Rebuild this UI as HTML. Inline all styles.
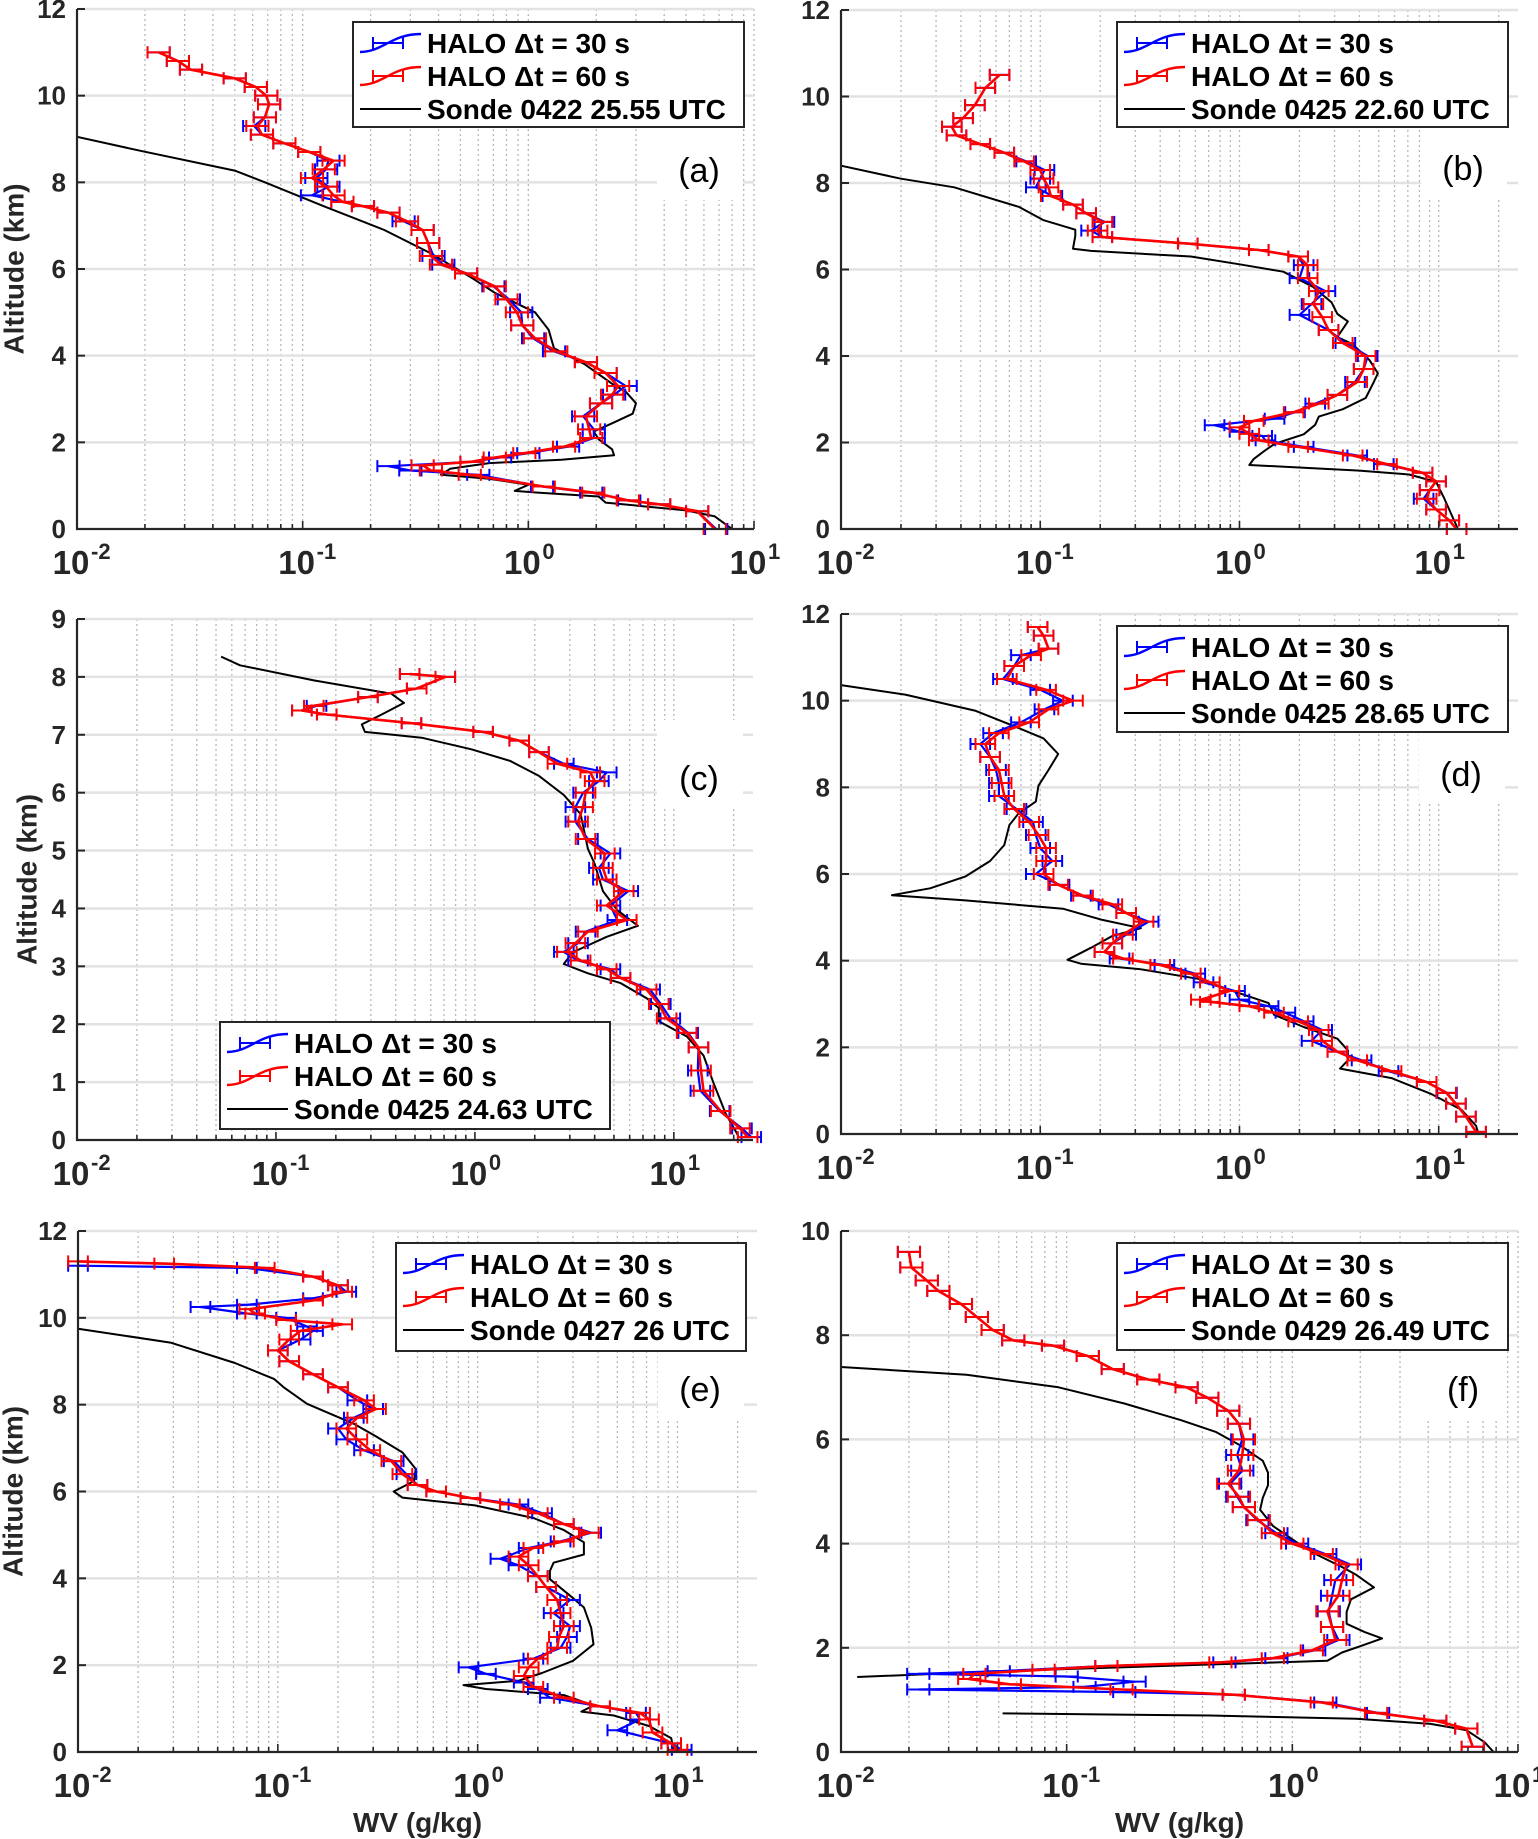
<!DOCTYPE html>
<html><head><meta charset="utf-8">
<style>
html,body{margin:0;padding:0;background:#fff;}
svg{display:block;font-family:"Liberation Sans",Arial,sans-serif;}
</style></head>
<body>
<svg id="fig" width="1538" height="1839" viewBox="0 0 1538 1839" xmlns="http://www.w3.org/2000/svg"></svg>
<script>
// ---------- Panel (a) ----------
const aBlue = [[11.0,0.023],[10.8,0.028],[10.6,0.032],[10.4,0.05],[10.2,0.062],[10.0,0.069],[9.8,0.071],[9.5,0.068],[9.3,0.061],[9.1,0.066],[8.9,0.083],[8.7,0.107],[8.5,0.13],[8.3,0.127],[8.1,0.115],[7.9,0.13],[7.7,0.11],[7.55,0.15],[7.45,0.185],[7.3,0.24],[7.1,0.28],[6.9,0.34],[6.6,0.36],[6.3,0.38],[6.1,0.42],[5.9,0.53],[5.6,0.7],[5.3,0.82],[5.0,0.93],[4.7,0.94],[4.4,1.05],[4.1,1.3],[3.85,1.8],[3.6,2.2],[3.3,2.7],[3.1,2.4],[2.9,2.1],[2.6,1.75],[2.3,1.95],[2.1,1.95],[1.9,1.5],[1.75,1.0],[1.65,0.75],[1.55,0.56],[1.45,0.24],[1.35,0.3],[1.25,0.6],[0.98,1.15],[0.84,1.9],[0.66,2.8],[0.57,3.8],[0.41,5.6],[0.0,6.8]];
const aRed = [[11.0,0.023],[10.8,0.028],[10.6,0.032],[10.4,0.05],[10.2,0.062],[10.0,0.069],[9.8,0.071],[9.5,0.068],[9.3,0.063],[9.1,0.066],[8.9,0.083],[8.7,0.107],[8.5,0.137],[8.3,0.124],[8.1,0.11],[7.9,0.127],[7.7,0.137],[7.55,0.15],[7.45,0.185],[7.3,0.24],[7.1,0.29],[6.9,0.34],[6.6,0.36],[6.3,0.37],[6.1,0.41],[5.9,0.53],[5.6,0.71],[5.3,0.8],[5.0,0.89],[4.7,0.94],[4.4,1.07],[4.1,1.33],[3.85,1.8],[3.6,2.2],[3.3,2.5],[3.1,2.35],[2.9,2.1],[2.6,1.8],[2.3,1.86],[2.1,1.9],[1.9,1.44],[1.75,0.96],[1.65,0.71],[1.55,0.56],[1.47,0.34],[1.35,0.37],[1.25,0.55],[0.98,1.17],[0.84,1.94],[0.66,2.76],[0.57,3.8],[0.41,5.6],[0.0,6.7]];
const aSonde = [[9.05,0.01],[8.73,0.019],[8.27,0.05],[8.0,0.068],[7.45,0.124],[6.9,0.23],[6.36,0.37],[5.8,0.56],[5.45,0.71],[5.0,1.07],[4.6,1.23],[4.17,1.3],[3.8,1.78],[3.35,2.35],[3.17,2.7],[2.9,3.0],[2.66,2.9],[2.44,2.35],[2.25,1.95],[2.07,2.05],[1.84,2.35],[1.7,2.4],[1.6,1.4],[1.52,0.67],[1.39,0.45],[1.25,0.41],[1.16,0.67],[1.02,1.0],[0.88,0.87],[0.84,1.1],[0.75,2.05],[0.61,2.2],[0.43,5.0],[0.29,6.7],[0.0,8.0]];
// ---------- Panel (b) ----------
const bBlue = [[10.5,0.0625],[10.2,0.053],[9.8,0.047],[9.5,0.041],[9.3,0.036],[9.1,0.038],[8.9,0.05],[8.7,0.066],[8.5,0.085],[8.3,0.105],[8.1,0.1],[7.9,0.095],[7.7,0.115],[7.5,0.146],[7.3,0.17],[7.1,0.21],[6.9,0.18],[6.75,0.205],[6.6,0.55],[6.45,1.25],[6.3,1.97],[6.1,2.1],[5.8,2.0],[5.5,2.7],[5.2,2.3],[4.95,2.0],[4.6,2.8],[4.3,3.4],[4.0,4.4],[3.7,4.2],[3.4,3.8],[3.1,3.1],[2.9,2.4],[2.7,1.9],[2.55,1.5],[2.4,0.75],[2.25,1.0],[2.15,1.3],[2.05,1.35],[1.9,2.1],[1.7,3.9],[1.5,5.3],[1.3,8.3],[1.1,9.7],[0.9,9.0],[0.7,8.4],[0.45,9.7],[0.2,11.3],[0.0,12.3]];
const bRed = [[10.5,0.0625],[10.2,0.053],[9.8,0.047],[9.5,0.041],[9.3,0.036],[9.1,0.038],[8.9,0.05],[8.7,0.066],[8.5,0.083],[8.3,0.1],[8.1,0.104],[7.9,0.11],[7.7,0.113],[7.5,0.146],[7.3,0.17],[7.1,0.205],[6.9,0.194],[6.75,0.205],[6.6,0.55],[6.45,1.25],[6.3,1.97],[6.1,2.2],[5.8,2.2],[5.5,2.5],[5.2,2.35],[4.9,2.6],[4.6,2.8],[4.3,3.3],[4.0,4.3],[3.7,4.2],[3.4,3.9],[3.1,3.1],[2.9,2.5],[2.7,1.87],[2.5,1.18],[2.35,1.0],[2.2,1.12],[2.05,1.25],[1.9,1.97],[1.7,3.7],[1.5,5.5],[1.3,8.3],[1.1,9.7],[0.9,9.0],[0.7,8.7],[0.45,9.7],[0.2,11.3],[0.0,12.3]];
const bSonde = [[8.4,0.01],[8.1,0.02],[7.9,0.037],[7.45,0.078],[7.14,0.104],[6.92,0.15],[6.78,0.15],[6.48,0.146],[6.43,0.18],[6.3,0.57],[6.12,1.0],[5.95,1.66],[5.6,2.34],[5.24,2.9],[4.97,3.1],[4.8,3.5],[4.44,3.1],[4.27,3.7],[3.9,4.5],[3.6,4.95],[3.38,4.7],[3.03,4.3],[2.77,3.3],[2.6,2.5],[2.41,2.4],[2.19,2.1],[1.97,1.5],[1.8,1.33],[1.62,1.18],[1.48,1.12],[1.35,4.0],[1.26,7.1],[1.09,9.7],[0.73,10.6],[0.29,11.7],[0.0,12.5]];
// ---------- Panel (c) ----------
const cBlue = [[8.05,0.47],[8.0,0.71],[7.8,0.51],[7.65,0.29],[7.5,0.16],[7.42,0.135],[7.35,0.18],[7.2,0.48],[7.05,1.1],[6.9,1.67],[6.7,2.1],[6.5,2.8],[6.35,4.6],[6.2,4.2],[6.0,3.5],[5.75,3.2],[5.5,3.2],[5.2,3.7],[4.95,4.8],[4.7,4.2],[4.5,4.4],[4.3,5.9],[4.05,4.8],[3.8,5.2],[3.6,3.6],[3.4,3.3],[3.25,2.8],[3.1,3.3],[2.95,4.8],[2.8,5.4],[2.6,7.6],[2.35,8.6],[2.1,9.6],[1.85,11.8],[1.6,13.3],[1.2,13.2],[0.85,13.6],[0.5,17.0],[0.2,22.0],[0.05,24.5]];
const cRed = [[8.05,0.47],[8.0,0.71],[7.8,0.51],[7.65,0.29],[7.5,0.155],[7.42,0.135],[7.35,0.18],[7.2,0.48],[7.05,1.1],[6.9,1.67],[6.7,2.1],[6.5,2.6],[6.35,3.8],[6.2,4.0],[6.0,3.6],[5.75,3.5],[5.5,3.3],[5.2,3.6],[4.95,4.5],[4.7,4.4],[4.5,4.6],[4.3,5.6],[4.05,4.6],[3.8,5.8],[3.6,3.7],[3.4,3.2],[3.25,2.9],[3.1,3.4],[2.95,4.6],[2.8,5.4],[2.6,7.3],[2.35,8.4],[2.1,9.2],[1.85,11.6],[1.6,13.3],[1.2,13.7],[0.85,14.1],[0.5,17.2],[0.2,21.5],[0.05,23.5]];
const cSonde = [[8.35,0.053],[8.2,0.066],[7.94,0.155],[7.71,0.38],[7.55,0.44],[7.35,0.34],[7.18,0.27],[7.05,0.28],[6.95,0.54],[6.75,0.96],[6.55,1.5],[6.29,2.1],[5.96,2.8],[5.63,3.4],[5.03,3.7],[4.77,4.0],[4.3,4.4],[3.97,5.2],[3.7,6.6],[3.51,4.6],[3.24,3.1],[3.04,2.8],[2.88,3.7],[2.71,5.4],[2.45,7.3],[2.28,8.4],[2.05,8.4],[1.79,11.6],[1.46,14.1],[0.99,15.8],[0.46,18.2],[0.07,21.1]];
// ---------- Panel (d) ----------
const dBlue = [[11.7,0.097],[11.5,0.104],[11.2,0.11],[11.05,0.08],[10.8,0.074],[10.5,0.065],[10.25,0.1],[10.0,0.13],[9.8,0.105],[9.5,0.08],[9.25,0.058],[9.0,0.05],[8.7,0.056],[8.4,0.06],[8.1,0.062],[7.8,0.062],[7.5,0.076],[7.2,0.092],[6.9,0.095],[6.6,0.1],[6.3,0.115],[6.0,0.095],[5.75,0.125],[5.5,0.16],[5.3,0.22],[5.1,0.27],[4.9,0.35],[4.6,0.27],[4.4,0.23],[4.2,0.21],[4.05,0.25],[3.9,0.42],[3.7,0.6],[3.5,0.66],[3.3,0.95],[3.1,1.0],[2.95,1.4],[2.8,1.7],[2.6,2.1],[2.4,2.6],[2.15,2.3],[1.9,3.1],[1.7,4.1],[1.45,5.6],[1.2,8.7],[0.95,11.0],[0.7,12.2],[0.4,13.7],[0.05,15.4]];
const dRed = [[11.7,0.097],[11.5,0.104],[11.2,0.11],[11.05,0.09],[10.8,0.074],[10.5,0.068],[10.25,0.107],[10.0,0.146],[9.8,0.11],[9.5,0.088],[9.25,0.062],[9.0,0.053],[8.7,0.056],[8.4,0.062],[8.1,0.064],[7.8,0.066],[7.5,0.074],[7.2,0.088],[6.9,0.098],[6.6,0.107],[6.3,0.107],[6.0,0.104],[5.75,0.123],[5.5,0.164],[5.3,0.23],[5.1,0.27],[4.9,0.33],[4.6,0.26],[4.4,0.23],[4.2,0.21],[4.05,0.26],[3.9,0.4],[3.7,0.57],[3.5,0.71],[3.3,0.89],[3.1,0.64],[3.05,0.71],[2.95,1.12],[2.8,1.49],[2.6,1.97],[2.4,2.5],[2.15,2.6],[1.9,3.1],[1.7,3.9],[1.45,5.8],[1.2,8.7],[0.95,10.9],[0.7,12.2],[0.4,13.7],[0.05,15.4]];
const dSonde = [[10.36,0.01],[10.14,0.021],[9.77,0.047],[9.41,0.074],[9.13,0.104],[8.77,0.123],[8.4,0.11],[8.04,0.098],[7.67,0.095],[7.4,0.078],[7.13,0.07],[6.67,0.066],[6.3,0.056],[5.94,0.042],[5.67,0.028],[5.51,0.018],[5.39,0.042],[5.2,0.13],[4.94,0.205],[4.75,0.32],[4.57,0.23],[4.3,0.18],[4.02,0.137],[3.93,0.16],[3.8,0.32],[3.57,0.64],[3.29,0.94],[3.02,1.4],[2.75,1.49],[2.47,2.1],[2.2,3.1],[1.93,3.5],[1.7,3.5],[1.51,3.2],[1.29,5.8],[0.92,9.2],[0.56,13.0],[0.19,15.4],[0.0,15.8]];
// ---------- Panel (e) ----------
const eBlue = [[11.2,0.01],[11.15,0.07],[10.95,0.15],[10.75,0.2],[10.6,0.22],[10.45,0.15],[10.3,0.07],[10.25,0.041],[10.1,0.07],[10.0,0.11],[9.8,0.14],[9.7,0.15],[9.5,0.13],[9.25,0.1],[9.0,0.114],[8.7,0.15],[8.4,0.2],[8.1,0.25],[7.9,0.3],[7.7,0.24],[7.45,0.2],[7.2,0.22],[6.95,0.27],[6.7,0.38],[6.4,0.44],[6.15,0.5],[6.0,0.62],[5.85,0.92],[5.7,1.6],[5.5,2.1],[5.25,2.7],[5.05,3.7],[4.85,2.6],[4.7,1.8],[4.45,1.3],[4.3,1.6],[4.05,2.0],[3.8,2.2],[3.5,2.9],[3.2,2.4],[2.9,2.9],[2.65,2.8],[2.4,2.6],[2.15,1.9],[1.95,0.9],[1.8,1.1],[1.6,1.7],[1.45,2.0],[1.25,2.3],[1.05,4.1],[0.9,6.2],[0.75,6.5],[0.5,5.0],[0.2,9.3],[0.05,10.5]];
const eRed = [[11.3,0.01],[11.25,0.027],[11.15,0.086],[10.95,0.15],[10.75,0.2],[10.6,0.21],[10.4,0.15],[10.2,0.072],[10.1,0.077],[9.95,0.11],[9.85,0.21],[9.7,0.13],[9.5,0.114],[9.25,0.1],[9.0,0.114],[8.7,0.15],[8.4,0.2],[8.1,0.27],[7.9,0.31],[7.7,0.25],[7.45,0.22],[7.2,0.25],[6.95,0.29],[6.7,0.37],[6.4,0.42],[6.15,0.5],[6.0,0.62],[5.85,0.92],[5.7,1.45],[5.5,2.0],[5.25,2.7],[5.05,3.6],[4.85,2.7],[4.7,1.9],[4.5,1.6],[4.3,1.8],[4.05,2.0],[3.8,2.2],[3.5,2.5],[3.2,2.6],[2.9,2.7],[2.65,2.55],[2.4,2.5],[2.15,2.0],[1.95,1.8],[1.75,1.7],[1.5,1.9],[1.25,2.7],[1.05,4.1],[0.9,6.5],[0.75,7.2],[0.45,7.5],[0.2,9.3],[0.05,10.0]];
const eSonde = [[9.75,0.01],[9.43,0.029],[8.96,0.061],[8.59,0.096],[8.4,0.107],[8.02,0.14],[7.56,0.24],[7.27,0.31],[6.9,0.42],[6.52,0.49],[6.24,0.48],[6.0,0.38],[5.86,0.42],[5.68,0.97],[5.39,1.9],[5.11,2.7],[4.83,3.4],[4.55,3.4],[4.36,2.4],[4.17,2.3],[3.98,2.3],[3.6,2.9],[3.33,3.4],[2.86,3.7],[2.48,3.8],[2.1,3.0],[1.82,2.1],[1.64,1.6],[1.54,0.85],[1.45,1.1],[1.31,2.7],[1.07,3.8],[0.93,3.3],[0.84,4.8],[0.6,7.2],[0.32,9.3],[0.0,9.6]];
// ---------- Panel (f) ----------
const fBlue = [[9.6,0.02],[9.3,0.0205],[9.05,0.024],[8.85,0.027],[8.6,0.034],[8.35,0.04],[8.1,0.047],[7.9,0.058],[7.8,0.087],[7.6,0.124],[7.35,0.16],[7.15,0.23],[7.0,0.34],[6.8,0.42],[6.55,0.52],[6.3,0.58],[6.0,0.6],[5.7,0.57],[5.4,0.6],[5.15,0.53],[4.9,0.57],[4.7,0.61],[4.45,0.7],[4.2,0.85],[4.0,1.05],[3.8,1.4],[3.6,1.8],[3.3,1.55],[3.0,1.5],[2.7,1.45],[2.4,1.5],[2.15,1.6],[1.95,1.25],[1.8,0.85],[1.72,0.5],[1.65,0.15],[1.55,0.05],[1.5,0.022],[1.45,0.1],[1.35,0.2],[1.25,0.12],[1.2,0.022],[1.15,0.18],[1.1,0.55],[0.95,1.4],[0.75,2.4],[0.6,4.3],[0.45,5.9],[0.1,6.3]];
const fRed = [[9.6,0.02],[9.3,0.0205],[9.05,0.024],[8.85,0.027],[8.6,0.034],[8.35,0.04],[8.1,0.047],[7.9,0.058],[7.8,0.087],[7.6,0.124],[7.35,0.16],[7.15,0.23],[7.0,0.34],[6.8,0.42],[6.55,0.52],[6.3,0.58],[6.0,0.61],[5.7,0.6],[5.4,0.58],[5.15,0.52],[4.9,0.58],[4.7,0.61],[4.45,0.71],[4.2,0.82],[4.0,1.0],[3.8,1.35],[3.6,1.74],[3.3,1.66],[3.0,1.6],[2.7,1.43],[2.4,1.5],[2.15,1.55],[1.95,1.22],[1.8,0.82],[1.72,0.48],[1.65,0.15],[1.58,0.079],[1.5,0.039],[1.4,0.037],[1.3,0.056],[1.2,0.175],[1.1,0.55],[0.95,1.35],[0.75,2.35],[0.6,4.3],[0.45,5.9],[0.1,6.3]];
const fSonde = [[7.39,0.01],[7.24,0.036],[7.0,0.092],[6.69,0.18],[6.37,0.32],[6.14,0.46],[5.9,0.58],[5.59,0.74],[5.36,0.78],[5.12,0.78],[4.88,0.74],[4.65,0.72],[4.34,0.82],[4.02,1.05],[3.79,1.28],[3.55,1.66],[3.4,1.92],[3.16,2.3],[2.93,1.82],[2.69,1.74],[2.46,1.74],[2.3,2.1],[2.18,2.5],[2.03,2.0],[1.91,1.66],[1.75,1.43],[1.68,0.43],[1.56,0.058],[1.44,0.0118],null,[0.74,0.052],[0.7,0.43],[0.64,1.92],[0.54,4.1],[0.42,5.9],[0.19,7.1],[0.0,7.8]];

const yTicksA = [0,2,4,6,8,10,12];
const yTicksC = [0,1,2,3,4,5,6,7,8,9];
const yTicksF = [0,2,4,6,8,10];
const xDecades = [-2,-1,0,1];
const legendSonde = ["Sonde 0422 25.55 UTC","Sonde 0425 22.60 UTC","Sonde 0425 24.63 UTC","Sonde 0425 28.65 UTC","Sonde 0427 26 UTC","Sonde 0429 26.49 UTC"];
const legendHalo = ["HALO \u0394t = 30 s","HALO \u0394t = 60 s"];

const panels = [
 {id:'a',L:77,R:754,T:9,B:529,ymax:12,xmax:10,yt:yTicksA,blue:aBlue,red:aRed,sonde:aSonde,leg:[353,22,391,105],lab:[699,170],ylab:14,xlab:false},
 {id:'b',L:841,R:1518,T:10,B:529,ymax:12,xmax:25,yt:yTicksA,blue:bBlue,red:bRed,sonde:bSonde,leg:[1117,22,391,105],lab:[1463,168],ylab:null,xlab:false},
 {id:'c',L:77,R:753,T:619,B:1140,ymax:9,xmax:25,yt:yTicksC,blue:cBlue,red:cRed,sonde:cSonde,leg:[220,1022,390,107],lab:[699,778],ylab:27,xlab:false},
 {id:'d',L:841,R:1518,T:614,B:1134,ymax:12,xmax:25,yt:yTicksA,blue:dBlue,red:dRed,sonde:dSonde,leg:[1117,626,391,106],lab:[1461,774],ylab:null,xlab:false},
 {id:'e',L:78,R:757,T:1231,B:1752,ymax:12,xmax:25,yt:yTicksA,blue:eBlue,red:eRed,sonde:eSonde,leg:[396,1243,350,108],lab:[700,1389],ylab:13,xlab:true},
 {id:'f',L:841,R:1518,T:1231,B:1752,ymax:10,xmax:10,yt:yTicksF,blue:fBlue,red:fRed,sonde:fSonde,leg:[1117,1243,391,107],lab:[1463,1389],ylab:null,xlab:true}
];

const NS='http://www.w3.org/2000/svg';
const svg=document.getElementById('fig');
function mk(tag,attrs,parent){const e=document.createElementNS(NS,tag);for(const k in attrs)e.setAttribute(k,attrs[k]);(parent||svg).appendChild(e);return e;}

panels.forEach((p,pi)=>{
  const g=mk('g',{});
  
  
  const lmax=Math.log10(p.xmax);
  const dec=(p.R-p.L)/(lmax+2);
  const xs=v=>p.L+(Math.log10(v)+2)*dec;
  const ys=h=>p.B-h/p.ymax*(p.B-p.T);
  // vertical dotted grid (log minor + major)
  for(let d=-2;d<=1;d++){for(let m=1;m<=9;m++){const v=m*Math.pow(10,d);if(v>p.xmax*1.0001)continue;const x=xs(v);if(x<=p.L+0.5)continue;
    const l=mk('line',{x1:x,x2:x,y1:p.T,y2:p.B,stroke:'#b8b8b8','stroke-width':1.3,'stroke-dasharray':'2,3'},g);
    
    }}
  // horizontal grid
  p.yt.forEach(t=>{if(t===0)return;const y=ys(t);
    const l=mk('line',{x1:p.L,x2:p.R,y1:y,y2:y,stroke:'#e2e2e2','stroke-width':2.5},g);
    
    });
  // panel label background
  const wb=mk('rect',{x:p.lab[0]-42,y:p.lab[1]-58,width:86,height:88,fill:'#fff'},g);
  
  
  // series
  function line(data,color,w,name){
    let d='',pen=false;
    data.forEach(pt=>{if(!pt){pen=false;return;}const x=xs(pt[1]),y=ys(pt[0]);d+=(pen?'L':'M')+x.toFixed(1)+' '+y.toFixed(1);pen=true;});
    const e=mk('path',{d:d,fill:'none',stroke:color,'stroke-width':w,'stroke-linejoin':'round'},g);
    
    
  }
  function errs(data,color,name){
    const eg=mk('g',{stroke:color,'stroke-width':2},g);
    
    
    data.forEach(pt=>{if(!pt)return;const y=ys(pt[0]);const x1=xs(pt[1]/1.12),x2=xs(pt[1]*1.12);
      mk('line',{x1:x1,x2:x2,y1:y,y2:y},eg);
      mk('line',{x1:x1,x2:x1,y1:y-6,y2:y+6},eg);
      mk('line',{x1:x2,x2:x2,y1:y-6,y2:y+6},eg);});
  }
  line(p.sonde,'#000',2,'sonde-line-'+p.id);
  line(p.blue,'#0000ff',2.2,'halo-30s-line-'+p.id);
  errs(p.blue,'#0000ff','halo-30s-errorbars-'+p.id);
  line(p.red,'#ff0000',2.6,'halo-60s-line-'+p.id);
  errs(p.red,'#ff0000','halo-60s-errorbars-'+p.id);
  // axes
  const ax=mk('path',{d:`M${p.L} ${p.T}V${p.B}H${p.R}`,fill:'none',stroke:'#262626','stroke-width':2.2},g);
  
  
  // y ticks & labels
  p.yt.forEach(t=>{const y=ys(t);
    mk('line',{x1:p.L,x2:p.L+8,y1:y,y2:y,stroke:'#262626','stroke-width':2},g);
    const tx=mk('text',{x:p.L-11,y:y+9,'text-anchor':'end','font-size':26,'font-weight':'bold',fill:'#262626'},g);
    tx.textContent=t;
    
    });
  // x ticks
  for(let d=-2;d<=1;d++){for(let m=1;m<=9;m++){const v=m*Math.pow(10,d);if(v>p.xmax*1.0001)continue;const x=xs(v);
    mk('line',{x1:x,x2:x,y1:p.B,y2:p.B-(m===1?8:5),stroke:'#262626','stroke-width':1.6},g);}}
  xDecades.forEach(d=>{const x=xs(Math.pow(10,d));
    const tx=mk('text',{x:x-6,y:p.B+45,'text-anchor':'middle','font-size':33,'font-weight':'bold',fill:'#262626'},g);
    tx.textContent='10';
    
    
    const ex=mk('text',{x:x+14,y:p.B+30,'text-anchor':'start','font-size':22,'font-weight':'bold',fill:'#262626'},g);
    ex.textContent=String(d);
    
    });
  // axis titles
  if(p.ylab!==null){const cy=(p.T+p.B)/2;
    const t=mk('text',{x:p.ylab,y:cy,transform:`rotate(-90 ${p.ylab} ${cy})`,'text-anchor':'middle','dominant-baseline':'central','font-size':28,'font-weight':'bold',fill:'#262626'},g);
    t.textContent='Altitude (km)';
    
    }
  if(p.xlab){const cx=(p.L+p.R)/2;
    const t=mk('text',{x:cx,y:1832,'text-anchor':'middle','font-size':28,'font-weight':'bold',fill:'#262626'},g);
    t.textContent='WV (g/kg)';
    
    }
  // panel letter
  const pl=mk('text',{x:p.lab[0],y:p.lab[1]+12,'text-anchor':'middle','font-size':34,fill:'#000'},g);
  pl.textContent='('+p.id+')';
  
  
  // legend
  const [lx,ly,lw,lh]=p.leg;
  const lg=mk('g',{},g);
  
  
  mk('rect',{x:lx,y:ly,width:lw,height:lh,fill:'#fff',stroke:'#262626','stroke-width':2},lg);
  const rows=[[legendHalo[0],'#0000ff'],[legendHalo[1],'#ff0000'],[legendSonde[pi],'#000']];
  rows.forEach((r,i)=>{const by=ly+31+i*33;const cy=by-10;
    const eg=mk('g',{},lg);
    
    
    if(i<2){
      mk('path',{d:`M${lx+7} ${cy+9}C${lx+30} ${cy+9} ${lx+38} ${cy-9} ${lx+68} ${cy-9}`,fill:'none',stroke:r[1],'stroke-width':2.4},eg);
      mk('line',{x1:lx+20,x2:lx+50,y1:cy,y2:cy,stroke:r[1],'stroke-width':2},eg);
      mk('line',{x1:lx+20,x2:lx+20,y1:cy-6,y2:cy+6,stroke:r[1],'stroke-width':2},eg);
      mk('line',{x1:lx+50,x2:lx+50,y1:cy-6,y2:cy+6,stroke:r[1],'stroke-width':2},eg);
    } else {
      mk('line',{x1:lx+7,x2:lx+68,y1:cy,y2:cy,stroke:'#000','stroke-width':2},eg);
    }
    const t=mk('text',{x:lx+74,y:by,'font-size':28,'font-weight':'bold',fill:'#000'},eg);
    t.textContent=r[0];
  });
});
</script>
</body></html>
